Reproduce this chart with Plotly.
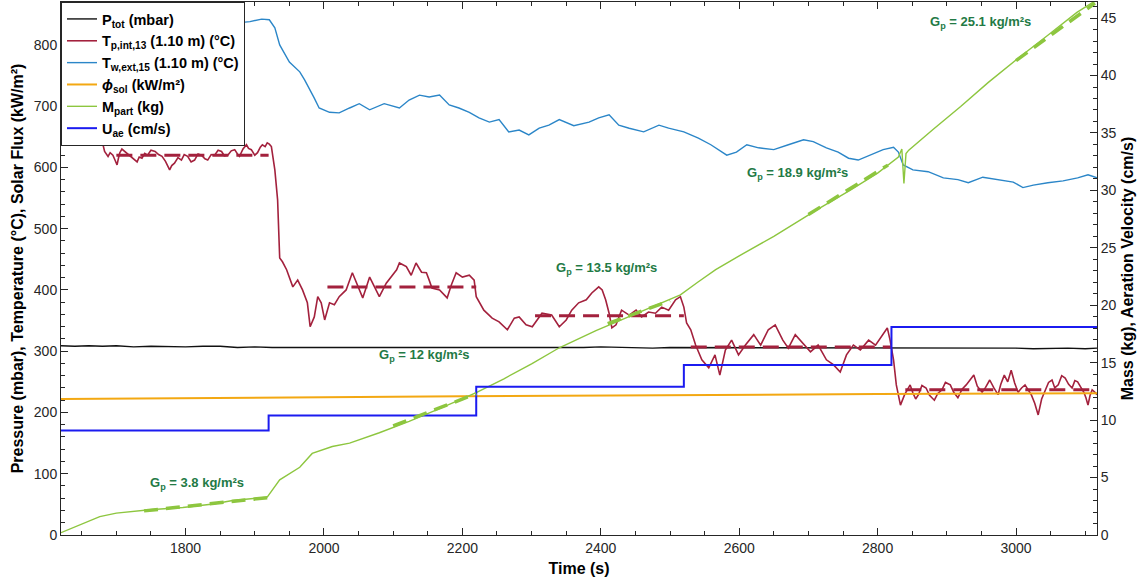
import plotly.graph_objects as go

# ---------------- data ----------------
t_ptot = [1620, 1640, 1660, 1680, 1700, 1725, 1750, 1775, 1800, 1825, 1850, 1875, 1900, 1925, 1950, 1975,
          2000, 2025, 2050, 2075, 2100, 2125, 2150, 2175, 2200, 2225, 2250, 2275, 2300, 2325, 2350, 2375,
          2400, 2425, 2450, 2475, 2500, 2525, 2550, 2575, 2600, 2625, 2650, 2675, 2700, 2725, 2750, 2775,
          2800, 2825, 2850, 2875, 2900, 2925, 2950, 2975, 3000, 3025, 3050, 3075, 3100, 3117]
p_tot = [309, 308, 309, 308, 309, 307, 308, 307, 307, 308, 308, 306, 307, 306, 306, 305,
         305, 306, 305, 306, 305, 306, 306, 305, 306, 305, 305, 306, 306, 305, 306, 306,
         307, 306, 306, 305, 306, 306, 305, 306, 305, 306, 306, 305, 305, 306, 305, 305,
         305, 306, 306, 305, 305, 306, 305, 305, 305, 304, 305, 305, 304, 305]

t_tp = [1620, 1640, 1660, 1678, 1683, 1686, 1688, 1691, 1695, 1698, 1701, 1703, 1705, 1708, 1712, 1716, 1720,
        1725, 1730, 1733, 1737, 1741, 1745, 1750, 1756, 1761, 1766, 1771, 1777, 1780, 1784, 1789, 1794,
        1798, 1803, 1808, 1813, 1818, 1823, 1828, 1832, 1837, 1842, 1847, 1852, 1856, 1861, 1866, 1871,
        1875, 1878, 1883, 1888, 1891, 1895, 1900, 1904, 1908, 1911, 1915, 1918, 1921, 1924,
        1929, 1933, 1936, 1940, 1946, 1950, 1955, 1962, 1969, 1976, 1980, 1986, 1991, 1996, 2001,
        2008, 2015, 2022, 2032, 2041, 2056, 2066, 2080, 2090, 2105, 2109, 2119, 2126, 2133, 2141, 2148,
        2152, 2156, 2167, 2174, 2178, 2184, 2191, 2200, 2210, 2217, 2220, 2231, 2243, 2253, 2265, 2275,
        2282, 2292, 2301, 2315, 2329, 2340, 2350, 2358, 2368, 2379, 2387, 2397, 2402, 2407, 2412, 2416,
        2422, 2430, 2441, 2451, 2459, 2469, 2479, 2488, 2498, 2508, 2515, 2520, 2524, 2530, 2537, 2546,
        2556, 2565, 2572, 2580, 2589, 2599, 2609, 2621, 2631, 2642, 2652, 2663, 2671, 2681, 2691, 2703,
        2714, 2726, 2736, 2746, 2755, 2765, 2775, 2787, 2797, 2807, 2814, 2818, 2823, 2827, 2833,
        2839, 2843, 2847, 2851, 2855, 2859, 2864, 2870, 2875, 2882, 2887, 2893, 2898, 2905, 2910, 2916,
        2922, 2928, 2933, 2939, 2944, 2951, 2956, 2962, 2968, 2974, 2978, 2983, 2988, 2993, 2998, 3003,
        3008, 3013, 3018, 3022, 3027, 3032, 3037, 3042, 3047, 3052, 3056, 3061, 3066, 3071, 3076, 3081,
        3085, 3089, 3094, 3098, 3101, 3104, 3107, 3110, 3114, 3117]
t_p = [655, 652, 656, 650, 626, 621, 618, 624, 620, 612, 604, 615, 624, 630, 626, 622, 618,
       614, 609, 617, 615, 623, 620, 628, 626, 621, 618, 610, 596, 603, 607, 616, 612,
       621, 618, 609, 612, 622, 620, 614, 612, 621, 620, 628, 626, 619, 620, 627, 629,
       622, 618, 630, 637, 631, 629, 620, 624, 633, 637, 634, 640, 638, 634,
       596, 547, 452, 446, 433, 421, 405, 416, 400, 379, 340, 356, 389, 379, 351,
       379, 376, 389, 400, 428, 387, 421, 389, 411, 433, 444, 438, 424, 444, 429, 428,
       416, 403, 400, 392, 387, 408, 428, 421, 424, 416, 389, 367, 354, 348, 335, 354,
       356, 343, 340, 362, 359, 340, 351, 367, 379, 384, 395, 405, 400, 384, 362, 338,
       343, 367, 359, 367, 356, 364, 362, 372, 367, 384, 389, 372, 346, 335, 310, 286,
       273, 294, 261, 302, 318, 294, 310, 327, 310, 335, 343, 318, 305, 327, 315, 299,
       310, 286, 278, 266, 294, 310, 302, 318, 310, 327, 338, 318, 286, 245, 212,
       229, 238, 245, 232, 222, 229, 244, 240, 228, 220, 231, 237, 249, 245, 233, 224,
       238, 245, 252, 261, 243, 233, 241, 253, 240, 229, 246, 261, 250, 269, 248, 233,
       240, 245, 236, 229, 215, 196, 222, 237, 249, 253, 240, 245, 260, 256, 246, 240,
       252, 250, 241, 233, 224, 212, 228, 237, 233, 229]

t_tw = [1620, 1660, 1700, 1750, 1800, 1850, 1893, 1910, 1921, 1929, 1936, 1950, 1965, 1972, 1986, 1993,
        2008, 2022, 2037, 2051, 2066, 2087, 2109, 2123, 2138, 2152, 2167, 2181, 2195, 2210, 2224, 2239,
        2253, 2267, 2282, 2296, 2311, 2325, 2340, 2361, 2383, 2397, 2412, 2426, 2441, 2462, 2484, 2498,
        2520, 2541, 2559, 2570, 2582, 2596, 2611, 2628, 2650, 2671, 2693, 2707, 2726, 2743, 2758, 2772,
        2789, 2808, 2823, 2830, 2837, 2851, 2873, 2895, 2916, 2931, 2952, 2974, 2996, 3010, 3025, 3046,
        3068, 3089, 3104, 3117]
t_w = [832, 836, 834, 838, 835, 833, 838, 842, 841, 828, 800, 772, 756, 743, 713, 697,
       690, 689, 697, 704, 694, 704, 697, 710, 718, 715, 718, 702, 697, 690, 681, 674,
       678, 658, 661, 653, 664, 669, 678, 668, 674, 681, 686, 669, 664, 658, 669, 664,
       658, 648, 637, 629, 620, 625, 637, 632, 629, 637, 645, 642, 632, 625, 615, 612,
       620, 629, 633, 625, 604, 596, 593, 583, 580, 575, 584, 580, 576, 567, 571, 575,
       578, 583, 588, 583]

t_sol = [1620, 1800, 2000, 2200, 2400, 2600, 2800, 3000, 3117]
phi_sol = [222, 223, 225, 226.5, 228, 229, 230, 231, 231.5]

t_m = [1620, 1640, 1662, 1676, 1700, 1748, 1796, 1840, 1868, 1900, 1918, 1936, 1965, 1983, 2012, 2037,
       2080, 2123, 2167, 2220, 2260, 2300, 2340, 2393, 2440, 2480, 2515, 2540, 2566, 2600, 2650, 2712,
       2760, 2800, 2830, 2835, 2838, 2841, 2845, 2880, 2920, 2960, 3003, 3046, 3088, 3117]
m_part = [0.2, 0.7, 1.2, 1.6, 1.9, 2.2, 2.4, 2.7, 3.0, 3.2, 3.3, 4.8, 5.9, 7.1, 7.7, 8.0,
          8.9, 9.9, 11.0, 12.4, 13.6, 14.9, 16.3, 17.8, 19.0, 20.0, 20.9, 22.0, 23.1, 24.3, 26.0, 28.3,
          30.0, 31.5, 32.9, 33.6, 30.6, 33.2, 33.5, 35.3, 37.3, 39.4, 41.5, 43.5, 45.5, 46.6]

t_u = [1620, 1920, 2220, 2520, 2820, 3117]
u_ae = [9.1, 10.4, 12.9, 14.8, 18.1, 18.1]

# fitted averages (temperature) and fitted mass slopes
tp_fit_t = [[1700, 1920], [2005, 2220], [2305, 2520], [2530, 2820], [2840, 3117]]
tp_fit_v = [[620, 620], [405, 405], [358, 358], [307, 307], [237, 237]]
m_fit_t = [[1740, 1918], [2100, 2220], [2410, 2500], [2700, 2815], [3000, 3114]]
m_fit_v = [[2.1, 3.25], [9.5, 12.3], [18.4, 20.4], [27.9, 32.2], [41.3, 46.3]]
gp_labels = ["3.8", "12", "13.5", "18.9", "25.1"]
gp_pos_t = [1745, 2077, 2332, 2609, 2873]
gp_pos_v = [4.5, 15.6, 23.2, 31.5, 44.6]

# ---------------- figure ----------------
C_BLACK = "#111111"
C_RED = "#a3213d"
C_LBLUE = "#2b86c8"
C_ORANGE = "#f3a812"
C_GREEN = "#8dc63f"
C_BLUE = "#1b1bf0"
C_ANN = "#237a45"
FONT = "Liberation Sans, Arial"

fig = go.Figure()
fig.add_trace(go.Scatter(x=t_ptot, y=p_tot, mode="lines", line=dict(color=C_BLACK, width=1.4),
                         name="<b>P<sub>tot</sub> (mbar)</b>"))
fig.add_trace(go.Scatter(x=t_tp, y=t_p, mode="lines", line=dict(color=C_RED, width=1.6),
                         name="<b>T<sub>p,int,13</sub> (1.10 m) (°C)</b>"))
fig.add_trace(go.Scatter(x=t_tw, y=t_w, mode="lines", line=dict(color=C_LBLUE, width=1.4),
                         name="<b>T<sub>w,ext,15</sub> (1.10 m) (°C)</b>"))
fig.add_trace(go.Scatter(x=t_sol, y=phi_sol, mode="lines", line=dict(color=C_ORANGE, width=2),
                         name="<b><i>ϕ</i><sub>sol</sub> (kW/m²)</b>"))
for ft, fv in zip(tp_fit_t, tp_fit_v):
    fig.add_trace(go.Scatter(x=ft, y=fv, mode="lines", showlegend=False,
                             line=dict(color=C_RED, width=3, dash="16px,8px")))
fig.add_trace(go.Scatter(x=t_m, y=m_part, mode="lines", yaxis="y2", line=dict(color=C_GREEN, width=1.4),
                         name="<b>M<sub>part</sub> (kg)</b>"))
fig.add_trace(go.Scatter(x=t_u, y=u_ae, mode="lines", yaxis="y2", line=dict(color=C_BLUE, width=2, shape="hv"),
                         name="<b>U<sub>ae</sub> (cm/s)</b>"))
for ft, fv in zip(m_fit_t, m_fit_v):
    fig.add_trace(go.Scatter(x=ft, y=fv, mode="lines", yaxis="y2", showlegend=False,
                             line=dict(color=C_GREEN, width=3.5, dash="14px,8px")))

for lab, tx, vy in zip(gp_labels, gp_pos_t, gp_pos_v):
    fig.add_annotation(x=tx, y=vy, xref="x", yref="y2", text=f"<b>G<sub>p</sub> = {lab} kg/m²s</b>",
                       showarrow=False, xanchor="left", yanchor="middle",
                       font=dict(family=FONT, size=13, color=C_ANN))

axis_font = dict(family=FONT, size=14, color="#262626")
title_font = dict(family=FONT, size=16, color="#000000")

fig.update_layout(
    width=1145, height=585,
    margin=dict(l=61, r=48, t=2, b=50),
    paper_bgcolor="white", plot_bgcolor="white",
    showlegend=True,
    legend=dict(x=0, y=1, xanchor="left", yanchor="top", bgcolor="white",
                bordercolor="#262626", borderwidth=1,
                font=dict(family=FONT, size=14.5, color="#000000"),
                tracegroupgap=0, itemwidth=30),
    xaxis=dict(range=[1620, 3117], dtick=200, tick0=1800, showgrid=False, zeroline=False,
               showline=True, linecolor="#262626", linewidth=1, mirror="ticks",
               ticks="inside", ticklen=7, tickcolor="#262626",
               minor=dict(dtick=50, ticks="inside", ticklen=4, tickcolor="#262626"),
               tickfont=axis_font,
               title=dict(text="<b>Time (s)</b>", font=title_font, standoff=8)),
    yaxis=dict(range=[0, 870], dtick=100, showgrid=False, zeroline=False,
               showline=True, linecolor="#262626", linewidth=1,
               ticks="inside", ticklen=7, tickcolor="#262626",
               minor=dict(dtick=20, ticks="inside", ticklen=4, tickcolor="#262626"),
               tickfont=axis_font,
               title=dict(text="<b>Pressure (mbar), Temperature (°C), Solar Flux (kW/m²)</b>",
                          font=title_font, standoff=6)),
    yaxis2=dict(range=[0, 46.4], dtick=5, overlaying="y", side="right", showgrid=False, zeroline=False,
                showline=True, linecolor="#262626", linewidth=1,
                ticks="inside", ticklen=7, tickcolor="#262626",
                minor=dict(dtick=1, ticks="inside", ticklen=4, tickcolor="#262626"),
                tickfont=axis_font,
                title=dict(text="<b>Mass (kg), Aeration Velocity (cm/s)</b>", font=title_font, standoff=6)),
)

fig.write_html("out.html")
